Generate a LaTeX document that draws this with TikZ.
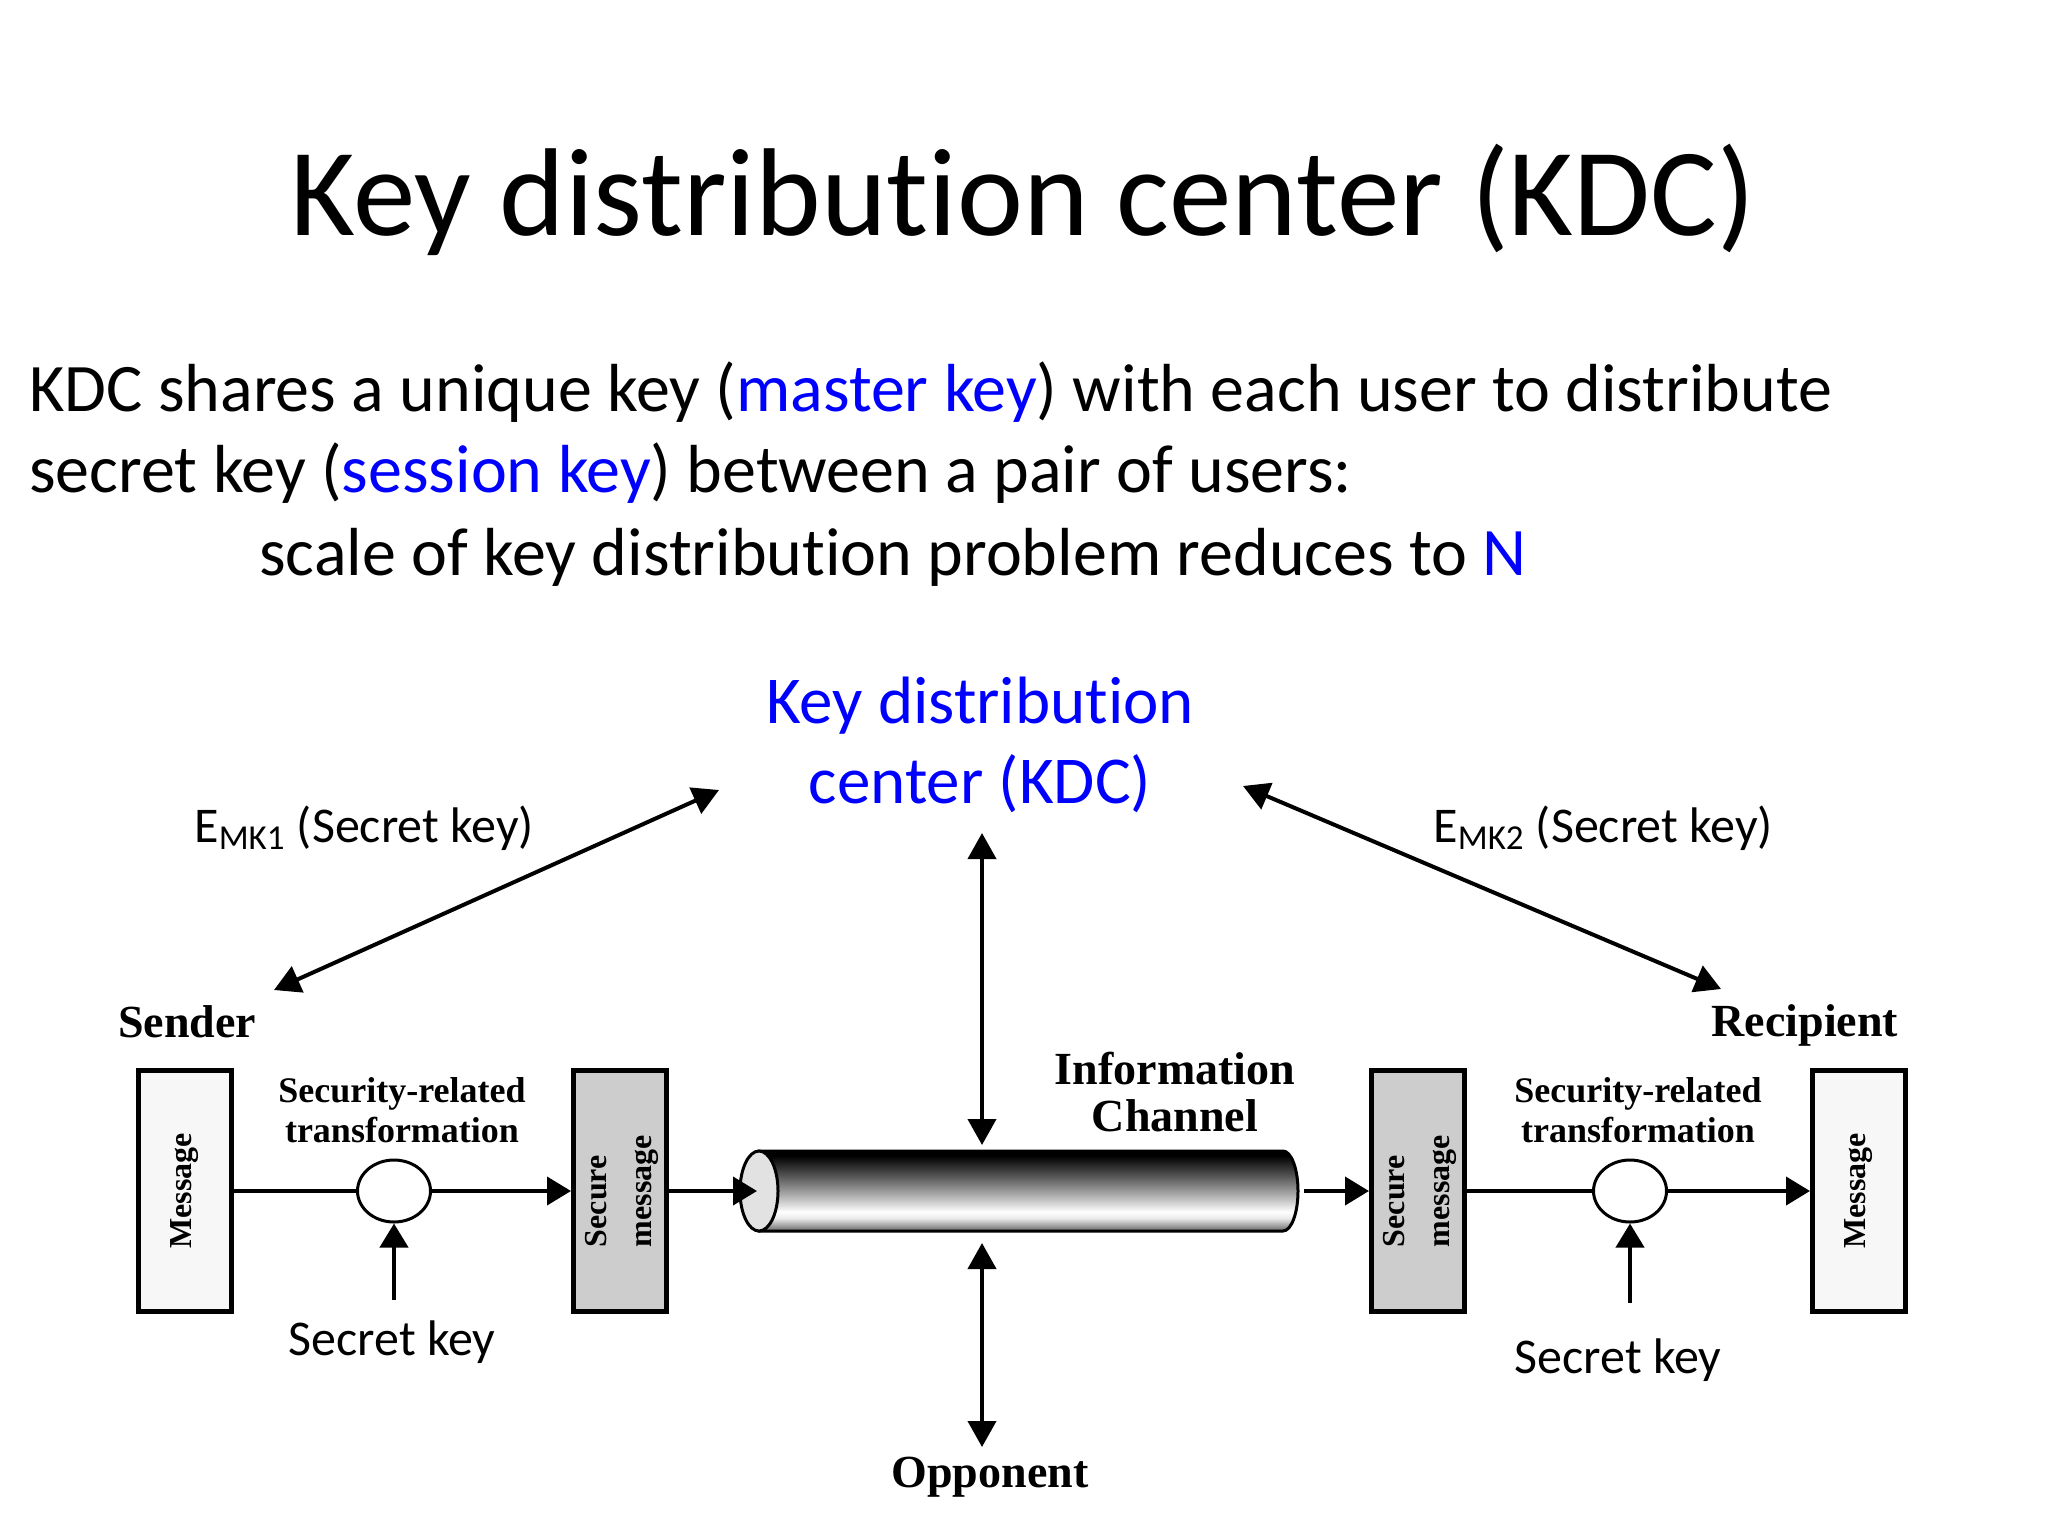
\documentclass[tikz,border=0pt]{standalone}
\usepackage{fontspec}
\setmainfont{Carlito}[Ligatures=NoCommon]
\newfontfamily\diagfont{Liberation Serif}
\usetikzlibrary{arrows.meta,shapes.geometric,positioning}

\definecolor{kdcblue}{RGB}{0,0,255}
\definecolor{securegray}{RGB}{205,205,205}
\definecolor{plainwhite}{RGB}{247,247,247}
\definecolor{pipeend}{RGB}{226,226,226}

\pgfdeclareverticalshading{pipeshade}{100bp}{color(0bp)=(black!60); color(25bp)=(black!60); color(33bp)=(black!8); color(37bp)=(white); color(45bp)=(black!25); color(60bp)=(black!68); color(72bp)=(black); color(100bp)=(black)}

\tikzset{
	arrowline/.style={line width=2pt, -{Triangle[length=12pt,width=14pt]}},
	bothline/.style={line width=2pt, {Triangle[length=13pt,width=14pt]}-{Triangle[length=13pt,width=14pt]}},
	msgbox/.style={draw, line width=2.5pt, fill=plainwhite, minimum width=46.5pt, minimum height=120.5pt, inner sep=0pt},
	securebox/.style={msgbox, fill=securegray},
	transform/.style={draw, ellipse, line width=1.5pt, fill=white, minimum width=36.5pt, minimum height=31pt, inner sep=0pt},
	diaglabel/.style={font=\diagfont\bfseries\fontsize{23}{23.5}\selectfont, anchor=base, inner sep=0pt}
}

\begin{document}
\begin{tikzpicture}[x=0.5pt, y=-0.5pt]
	\useasboundingbox (0,0) rectangle (2048,1536);

	% Titel und Text
	\node[anchor=base] (title) at (1023,235) {\fontsize{62.5}{74}\selectfont Key distribution center (KDC)};
	\node[anchor=base west, inner sep=0pt] (line1) at (29,411) {\fontsize{34}{44}\selectfont KDC shares a unique key (\textcolor{kdcblue}{master key}) with each user to distribute};
	\node[anchor=base west, inner sep=0pt] (line2) at (29,492) {\fontsize{34}{44}\selectfont secret key (\textcolor{kdcblue}{session key}) between a pair of users:};
	\node[anchor=base west, inner sep=0pt] (line3) at (259,575) {\fontsize{34}{44}\selectfont scale of key distribution problem reduces to \textcolor{kdcblue}{N}};

	% KDC (Anker = letzte Zeile)
	\node[anchor=base, align=center, text=kdcblue, inner sep=0pt, font=\fontsize{33.5}{40}\selectfont] (kdc) at (980,803) {Key distribution\\center (KDC)};
	\node[anchor=base west, inner sep=0pt] (emk1) at (194,842) {\fontsize{25}{30}\selectfont E\textsubscript{MK1} (Secret key)};
	\node[anchor=base west, inner sep=0pt] (emk2) at (1433,842) {\fontsize{25}{30}\selectfont E\textsubscript{MK2} (Secret key)};
	\coordinate (senderkey) at (274,990);
	\coordinate (kdcleft) at (719,790);
	\coordinate (kdcright) at (1243,786);
	\coordinate (recipkey) at (1721,989);
	\draw[bothline] (senderkey) -- (kdcleft);
	\draw[bothline] (kdcright) -- (recipkey);

	% Sender
	\node[diaglabel] (sender) at (187,1037) {Sender};
	\node[msgbox] (msgL) at (185,1191) {\rotatebox{90}{\diagfont\bfseries\fontsize{16}{22.5}\selectfont Message}};
	\node[transform] (trL) at (394,1191) {};
	\node[align=center, anchor=base, inner sep=0pt, font=\diagfont\bfseries\fontsize{18}{20}\selectfont] (secrelL) at (402,1142) {Security-related\\transformation};
	\node[securebox] (secL) at (620,1191) {\rotatebox{90}{\diagfont\bfseries\fontsize{16}{22.5}\selectfont\begin{tabular}{@{}l@{}}Secure\\message\end{tabular}}};
	\node[anchor=base, inner sep=0pt] (keyL) at (392,1355) {\fontsize{25}{30}\selectfont Secret key};
	\coordinate (keyLtop) at (394,1300);
	\draw[line width=2pt] (msgL) -- (trL);
	\draw[arrowline] (trL) -- (secL);
	\draw[arrowline] (keyLtop) -- (trL.south);

	% Kanal
	\node[minimum width=279pt, minimum height=40pt, inner sep=0pt, outer sep=3pt] (pipe) at (1019,1191) {};
	\shadedraw[shading=pipeshade, line width=1.5pt] (759,1151) -- (1283,1151) arc[start angle=-90, end angle=90, x radius=15, y radius=40] -- (759,1231) -- cycle;
	\filldraw[fill=pipeend, line width=1.5pt] (759,1191) ellipse [x radius=19, y radius=40];
	\coordinate (pipein) at (757,1191);
	\draw[arrowline] (secL) -- (pipein);
	\node[diaglabel, align=center] (channel) at (1175,1131) {Information\\Channel};

	% Gegner
	\coordinate (kdcfoot) at (982,833);
	\draw[bothline] (kdcfoot) -- (kdcfoot |- pipe.north);
	\node[diaglabel] (opponent) at (990,1487) {Opponent};
	\coordinate (opphead) at (982,1447);
	\draw[bothline, shorten >=3pt] (opphead) -- (opphead |- pipe.south);

	% Empfaenger
	\node[diaglabel] (recipient) at (1805,1036) {Recipient};
	\node[securebox] (secR) at (1418,1191) {\rotatebox{90}{\diagfont\bfseries\fontsize{16}{22.5}\selectfont\begin{tabular}{@{}l@{}}Secure\\message\end{tabular}}};
	\node[transform] (trR) at (1630,1191) {};
	\node[align=center, anchor=base, inner sep=0pt, font=\diagfont\bfseries\fontsize{18}{20}\selectfont] (secrelR) at (1638,1142) {Security-related\\transformation};
	\node[msgbox] (msgR) at (1859,1191) {\rotatebox{90}{\diagfont\bfseries\fontsize{16}{22.5}\selectfont Message}};
	\node[anchor=base, inner sep=0pt] (keyR) at (1618,1373) {\fontsize{25}{30}\selectfont Secret key};
	\coordinate (keyRtop) at (1630,1303);
	\draw[arrowline] (pipe.east) -- (secR);
	\draw[line width=2pt] (secR) -- (trR);
	\draw[arrowline] (trR) -- (msgR);
	\draw[arrowline] (keyRtop) -- (trR.south);
\end{tikzpicture}
\end{document}
